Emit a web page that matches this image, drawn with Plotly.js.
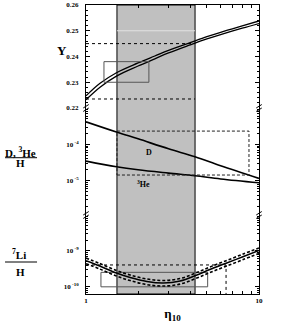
<!DOCTYPE html>
<html><head><meta charset="utf-8">
<script src="https://cdn.plot.ly/plotly-3.0.1.min.js"></script>
<style>html,body{margin:0;padding:0;background:#fff}#c{width:285px;height:327px}</style>
</head><body><div id="c"></div>
<script>
// ---- data ----
const etaY = [1, 1.2, 1.5, 2, 2.5, 3, 4, 5, 6, 8, 10];
const yHigh = [0.2247, 0.2295, 0.2337, 0.2375, 0.2402, 0.2424, 0.2454, 0.2477, 0.2494, 0.2519, 0.2538];
const yLow  = [0.2232, 0.2280, 0.2324, 0.2363, 0.2391, 0.2414, 0.2445, 0.2468, 0.2485, 0.2510, 0.2528];

const etaD = [1, 1.5, 2, 3, 4.27, 6, 10];
const dH   = [4.18e-4, 2.19e-4, 1.42e-4, 7.57e-5, 4.56e-5, 2.58e-5, 1.16e-5];
const he3H = [3.47e-5, 2.43e-5, 2.0e-5, 1.62e-5, 1.37e-5, 1.12e-5, 8.8e-6];

const etaLi   = [1, 1.2, 1.5, 1.8, 2.25, 2.8, 3.5, 4.3, 5.2, 6.4, 8, 10];
const liMid   = [5.35e-10, 3.80e-10, 2.42e-10, 1.81e-10, 1.40e-10, 1.27e-10, 1.45e-10, 2.06e-10, 3.03e-10, 4.47e-10, 6.79e-10, 1.03e-9];
const liHigh  = [6.3e-10, 4.47e-10, 2.85e-10, 2.13e-10, 1.65e-10, 1.50e-10, 1.70e-10, 2.42e-10, 3.56e-10, 5.25e-10, 7.98e-10, 1.21e-9];
const liLow   = [4.40e-10, 3.13e-10, 1.99e-10, 1.49e-10, 1.15e-10, 1.05e-10, 1.19e-10, 1.70e-10, 2.50e-10, 3.68e-10, 5.60e-10, 8.5e-10];

const band = [1.51, 4.27];              // concordance eta range
const yLimits = [0.2235, 0.245];        // dotted Y limits
const yLimitEta = [1, 4.27];
const yBoxEta = [1.27, 2.31];
const yBoxVal = [0.230, 0.238];
const dBoxEta = [1.51, 8.75];
const dBoxVal = [1.44e-5, 2.32e-4];
const liLimitEta = [1, 6.45];
const liLimitVal = [6.3e-11, 4.06e-10];
const liBoxEta = [1.22, 5.05];
const liBoxVal = [1.0e-10, 2.53e-10];

const yTicks = [0.22, 0.23, 0.24, 0.25, 0.26];
const yTickText = ['0.22', '0.23', '0.24', '0.25', '0.26'];
const dTicks = [1e-4, 1e-5];
const dTickText = ['10<sup> -4</sup>', '10<sup> -5</sup>'];
const liTicks = [1e-9, 1e-10];
const liTickText = ['10<sup> -9</sup>', '10<sup> -10</sup>'];
const xTicks = [1, 10];
const xTickText = ['1', '10'];

// ---- build ----
const F = 'Liberation Serif, Times New Roman, serif';
function rect(ex, vv) { return {x:[ex[0],ex[1],ex[1],ex[0],ex[0]], y:[vv[0],vv[0],vv[1],vv[1],vv[0]]}; }
const L = (c, w, d, s) => ({color:c, width:w, dash:d||'solid', shape:s||'linear'});
const traces = [];
traces.push({x:etaY, y:yHigh, xaxis:'x2', yaxis:'y', mode:'lines', line:L('black',1.3,'solid','spline')});
traces.push({x:etaY, y:yLow, xaxis:'x2', yaxis:'y', mode:'lines', line:L('black',1.3,'solid','spline')});
yLimits.forEach(v => traces.push({x:yLimitEta, y:[v,v], xaxis:'x2', yaxis:'y', mode:'lines', line:L('black',1,'dot')}));
const r1 = rect(yBoxEta, yBoxVal);
traces.push({x:r1.x, y:r1.y, xaxis:'x2', yaxis:'y', mode:'lines', line:L('#555',1)});

traces.push({x:etaD, y:dH, xaxis:'x', yaxis:'y2', mode:'lines', line:L('black',1.6,'solid','spline')});
traces.push({x:etaD, y:he3H, xaxis:'x', yaxis:'y2', mode:'lines', line:L('black',1.6,'solid','spline')});
const r2 = rect(dBoxEta, dBoxVal);
traces.push({x:r2.x, y:r2.y, xaxis:'x', yaxis:'y2', mode:'lines', line:L('#222',1,'3px,2px')});

traces.push({x:[liLimitEta[0], liLimitEta[1], liLimitEta[1]], y:[liLimitVal[1], liLimitVal[1], liLimitVal[0]], xaxis:'x', yaxis:'y3', mode:'lines', line:L('black',1,'dot')});
const r3 = rect(liBoxEta, liBoxVal);
traces.push({x:r3.x, y:r3.y, xaxis:'x', yaxis:'y3', mode:'lines', line:L('#555',1)});
traces.push({x:etaLi, y:liHigh, xaxis:'x', yaxis:'y3', mode:'lines', line:L('black',1.6,'3px,2px','spline')});
traces.push({x:etaLi, y:liLow, xaxis:'x', yaxis:'y3', mode:'lines', line:L('black',1.6,'3px,2px','spline')});
traces.push({x:etaLi, y:liMid, xaxis:'x', yaxis:'y3', mode:'lines', line:L('black',1.5,'solid','spline')});
traces.forEach(t => { t.hoverinfo = 'skip'; });

const tf = {family:F, size:7, color:'black', weight:'bold'};
const yBase = {showline:true, linecolor:'black', linewidth:1, mirror:'ticks', ticks:'inside', ticklen:4, tickcolor:'black',
  showgrid:false, zeroline:false, tickfont:tf, tickmode:'array', ticklabelstandoff:5, fixedrange:true};
const xBase = {type:'log', range:[0,1], showline:true, linecolor:'black', linewidth:1, ticks:'inside', ticklen:4, tickcolor:'black',
  showgrid:false, zeroline:false, tickmode:'array', tickvals:xTicks, ticktext:xTickText, tickfont:tf,
  minor:{ticks:'inside', ticklen:3, dtick:'D1', tickcolor:'black', showgrid:false}};

const dom1 = [0.6436, 1], dom2 = [0.2734, 0.6436], dom3 = [0, 0.2734];
function brk(px, py) { // break marks at axis, paper coords
  const out = [];
  [-0.006, 0.006].forEach(o => out.push({type:'line', xref:'paper', yref:'paper', x0:px-0.016, x1:px+0.016, y0:py+o-0.006, y1:py+o+0.006, line:{color:'black', width:1}}));
  return out;
}
const shapes = [
  {type:'rect', xref:'x', yref:'paper', x0:band[0], x1:band[1], y0:0, y1:1, fillcolor:'#c0c0c0', line:{color:'black', width:1}, layer:'below'},
  {type:'line', xref:'x', yref:'y', x0:band[0], x1:band[1], y0:0.25, y1:0.25, line:{color:'#e2e2e2', width:1}, layer:'below'},
  {type:'line', xref:'paper', yref:'paper', x0:-0.468, x1:-0.283, y0:0.4716, y1:0.4716, line:{color:'black', width:1}},
  {type:'line', xref:'paper', yref:'paper', x0:-0.468, x1:-0.283, y0:0.1107, y1:0.1107, line:{color:'black', width:1}},
  ...brk(0, dom1[0]), ...brk(1, dom1[0]), ...brk(0, dom2[0]), ...brk(1, dom2[0])
];
const af = (s) => ({family:F, size:s, color:'black', weight:'bold'});
const ann = (t, x, y, s) => ({text:t, xref:'paper', yref:'paper', x:x, y:y, showarrow:false, font:af(s), xanchor:'center', yanchor:'middle'});
const annotations = [
  ann('Y', -0.139, 0.844, 13),
  ann('D, <sup>3</sup>He', -0.38, 0.492, 11),
  ann('H', -0.38, 0.452, 11),
  ann('<sup>7</sup>Li', -0.385, 0.138, 11),
  ann('H', -0.38, 0.0772, 11),
  ann('D', 0.364, 0.488, 8),
  ann('<sup>3</sup>He', 0.33, 0.382, 8)
];

const layout = {
  width:285, height:327, margin:{l:86, r:26, t:5, b:33}, showlegend:false,
  paper_bgcolor:'white', plot_bgcolor:'rgba(0,0,0,0)',
  xaxis: Object.assign({}, xBase, {anchor:'y3', title:{text:'η<sub>10</sub>', font:{family:F, size:13, color:'black', weight:'bold'}, standoff:4}}),
  xaxis2: Object.assign({}, xBase, {anchor:'y', side:'top', showticklabels:false}),
  yaxis: Object.assign({}, yBase, {domain:dom1, anchor:'x2', range:[0.22, 0.26], tickvals:yTicks, ticktext:yTickText,
    minor:{ticks:'inside', ticklen:2, dtick:0.002, tickcolor:'black', showgrid:false}}),
  yaxis2: Object.assign({}, yBase, {domain:dom2, anchor:'x', type:'log', range:[-5.94, -3.0], tickvals:dTicks, ticktext:dTickText,
    minor:{ticks:'inside', ticklen:2, dtick:'D1', tickcolor:'black', showgrid:false}}),
  yaxis3: Object.assign({}, yBase, {domain:dom3, anchor:'x', type:'log', range:[-10.2, -8.0], tickvals:liTicks, ticktext:liTickText,
    minor:{ticks:'inside', ticklen:2, dtick:'D1', tickcolor:'black', showgrid:false}}),
  shapes: shapes, annotations: annotations
};
Plotly.newPlot('c', traces, layout, {staticPlot:true, displayModeBar:false});
</script></body></html>
